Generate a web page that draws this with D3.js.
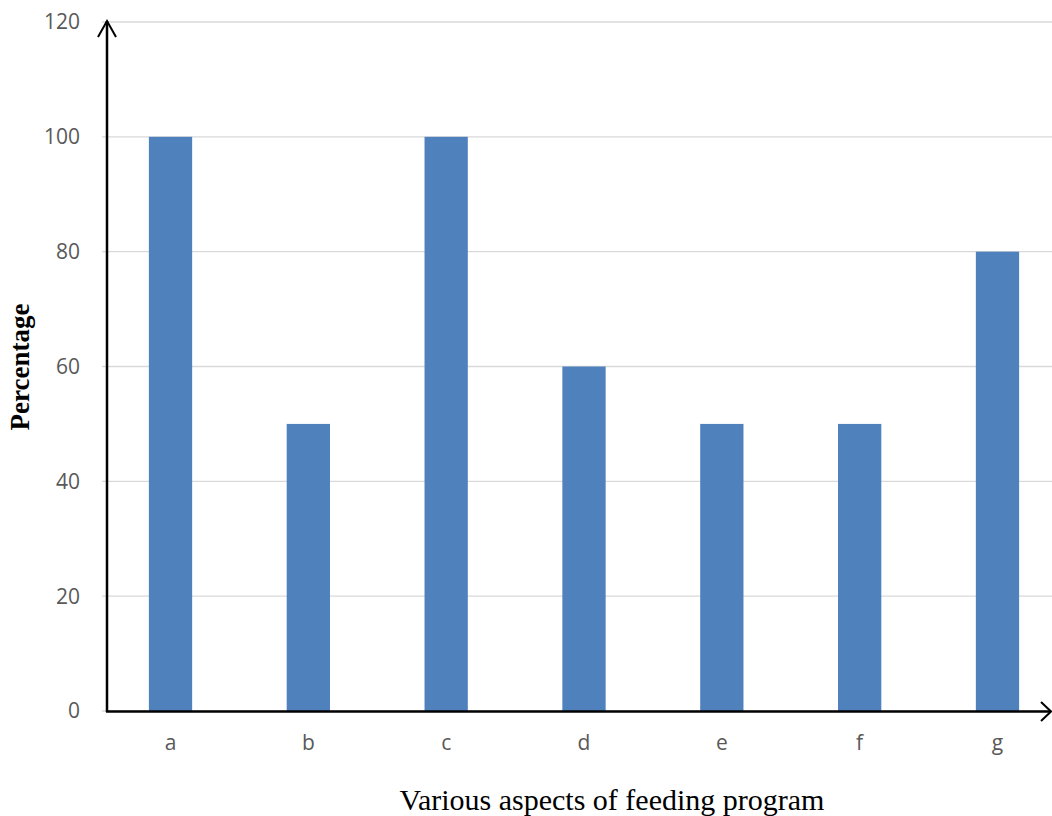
<!DOCTYPE html>
<html><head><meta charset="utf-8">
<script src="https://cdn.jsdelivr.net/npm/d3@7"></script>
<style>body{margin:0;background:#fff}svg{display:block}</style>
</head><body>
<svg id="c" width="1052" height="816"></svg>
<script>
const categories = ["a","b","c","d","e","f","g"];
const values = [100,50,100,60,50,50,80];
const yTicks = [0,20,40,60,80,100,120];

const svg = d3.select("#c");
const x = d3.scaleBand().domain(categories).range([101.6,1066.4]).paddingInner(0.686).paddingOuter(0.343);
const y = d3.scaleLinear().domain([0,120]).range([711,22]);

// gridlines
svg.append("g").selectAll("line").data(yTicks).join("line")
  .attr("x1",102).attr("x2",1052).attr("y1",d=>y(d)).attr("y2",d=>y(d))
  .attr("stroke","#d9d9d9").attr("stroke-width",1.3);

// bars
svg.append("g").selectAll("rect").data(values).join("rect")
  .attr("x",(d,i)=>x(categories[i])).attr("width",x.bandwidth())
  .attr("y",d=>y(d)).attr("height",d=>y(0)-y(d)).attr("fill","#4F81BD");

// y tick labels
svg.append("g").selectAll("text").data(yTicks).join("text")
  .attr("x",80).attr("y",d=>y(d)).attr("dy","0.35em").attr("text-anchor","end")
  .attr("font-family","'Open Sans', Lato, sans-serif").attr("font-size",21).attr("fill","#595959")
  .text(d=>d);

// x labels
svg.append("g").selectAll("text").data(categories).join("text")
  .attr("x",d=>x(d)+x.bandwidth()/2).attr("y",743).attr("dy","0.35em").attr("text-anchor","middle")
  .attr("font-family","'Open Sans', Lato, sans-serif").attr("font-size",21).attr("fill","#595959")
  .text(d=>d);

// axes with arrows
const ax = svg.append("g").attr("stroke","#000").attr("stroke-width",2.5).attr("fill","none");
ax.append("line").attr("x1",107).attr("y1",712).attr("x2",107).attr("y2",21);
ax.append("polyline").attr("points","98,37 107,21 116,37").attr("stroke-width",2);
ax.append("line").attr("x1",106).attr("y1",711.5).attr("x2",1051).attr("y2",711.5);
ax.append("polyline").attr("points","1041,702 1051,711.5 1041,721").attr("stroke-width",2);

// titles
svg.append("text").attr("transform","translate(29,367) rotate(-90)").attr("text-anchor","middle")
  .attr("font-family","'Liberation Serif', 'Times New Roman', serif").attr("font-weight","bold")
  .attr("font-size",27).attr("fill","#000").text("Percentage");
svg.append("text").attr("x",612).attr("y",810).attr("text-anchor","middle")
  .attr("font-family","'Liberation Serif', 'Times New Roman', serif")
  .attr("font-size",30).attr("fill","#000").text("Various aspects of feeding program");
</script>
</body></html>
